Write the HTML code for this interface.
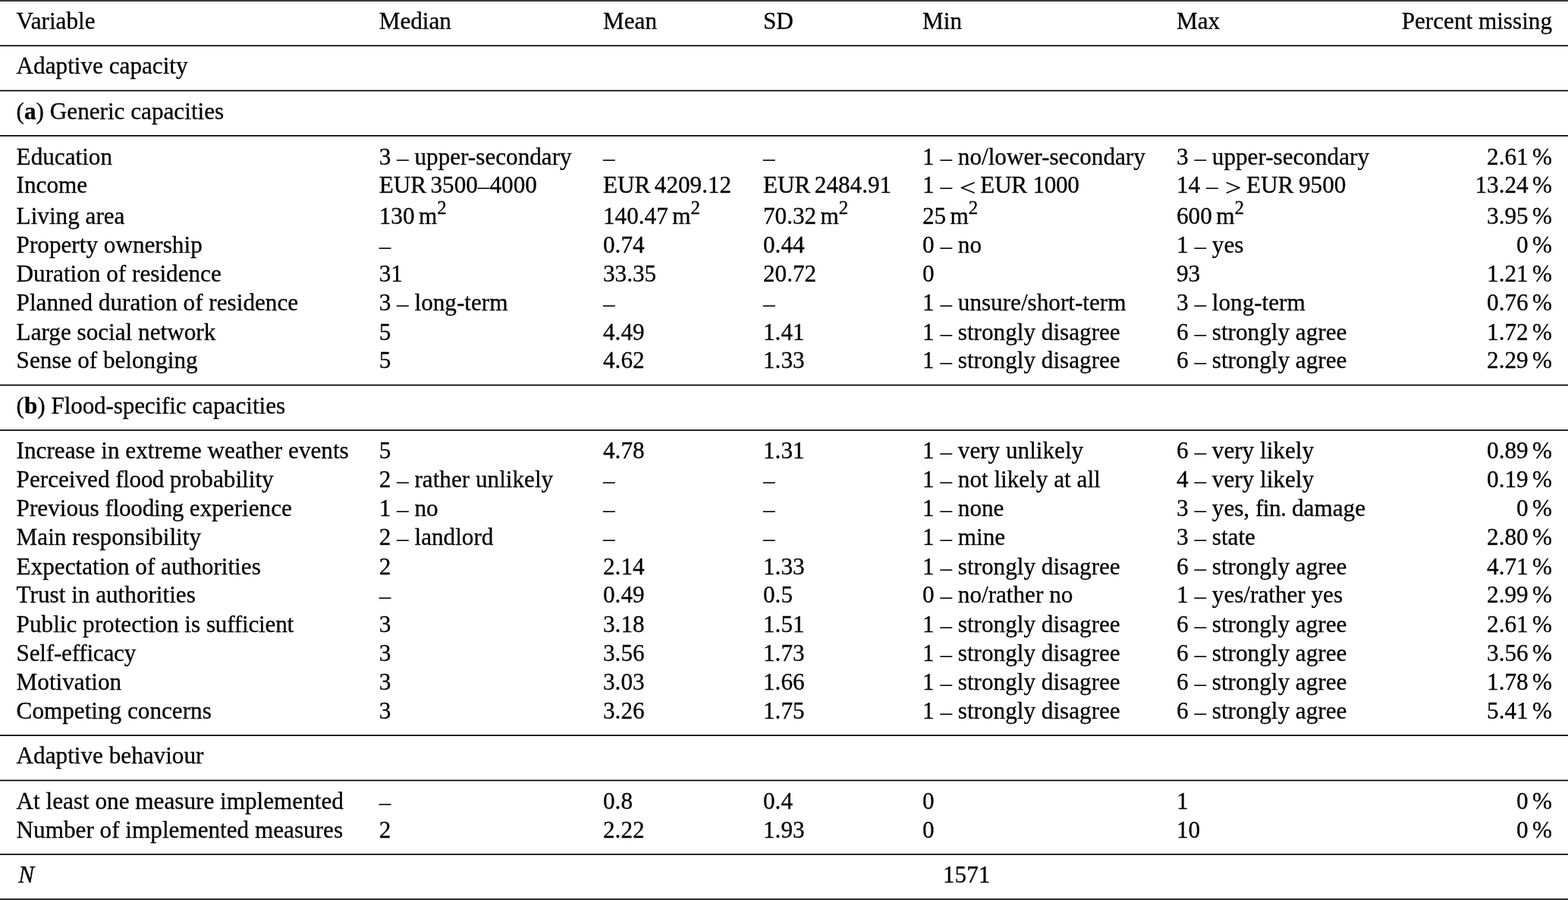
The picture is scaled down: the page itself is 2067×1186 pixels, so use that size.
<!DOCTYPE html><html lang="en"><head><meta charset="utf-8"><title>Table</title><style>
html,body{margin:0;padding:0;background:#fff}
body{width:2067px;height:1186px;position:relative;overflow:hidden;font-family:"Liberation Serif",serif;font-size:31.2px;color:#000;-webkit-text-stroke:0.3px #000;line-height:40px}
.r{position:absolute;left:0;width:2067px;height:40px;white-space:nowrap}
.r span{position:absolute;top:0}
.r span.t{position:static;letter-spacing:-0.85px}
.r span.m{position:static;display:inline-block;margin:0 0.4px 0 3.8px;transform:translateY(3.6px) scaleX(1.22)}
.r span.k{position:static;letter-spacing:-0.28px}
.r span.s{position:static;letter-spacing:-1.2px}
.r span.g{position:static}
.r span.d{position:relative;top:2px;-webkit-text-stroke:0}
.r .p{right:21.0px}
svg{position:absolute;left:0;top:0}
sup{font-size:0.8em;line-height:0;vertical-align:baseline;position:relative;top:-0.507em}
.c0{left:21.6px}
.c1{left:499.7px}
.c2{left:795.0px}
.c3{left:1006.0px}
.c4{left:1216.0px}
.c5{left:1551.0px}
</style></head><body>
<svg width="2067" height="1186" viewBox="0 0 2067 1186"><rect x="0" y="0" width="2067" height="1" fill="#444"/><rect x="0" y="1" width="2067" height="1" fill="#2a2a2a"/><rect x="0" y="59.40" width="2067" height="1.7" fill="#000"/><rect x="0" y="118.65" width="2067" height="1.7" fill="#000"/><rect x="0" y="178.00" width="2067" height="1.7" fill="#000"/><rect x="0" y="506.65" width="2067" height="1.7" fill="#000"/><rect x="0" y="566.00" width="2067" height="1.7" fill="#000"/><rect x="0" y="968.25" width="2067" height="1.7" fill="#000"/><rect x="0" y="1027.60" width="2067" height="1.7" fill="#000"/><rect x="0" y="1124.95" width="2067" height="1.7" fill="#000"/><rect x="0" y="1183.9" width="2067" height="2.1" fill="#303030"/></svg>
<div class="r" style="top:8px"><span class="c0">Variable</span><span class="c1">Median</span><span class="c2">Mean</span><span class="c3">SD</span><span class="c4">Min</span><span class="c5">Max</span><span class="p">Percent missing</span></div>
<div class="r" style="top:67px"><span class="c0">Adaptive capacity</span></div>
<div class="r" style="top:127px"><span class="c0">(<b>a</b>) Generic capacities</span></div>
<div class="r" style="top:187px"><span class="c0">Education</span><span class="c1">3 <span class="d">–</span> upper-secondary</span><span class="c2"><span class="d">–</span></span><span class="c3"><span class="d">–</span></span><span class="c4">1 <span class="d">–</span> no/lower-secondary</span><span class="c5">3 <span class="d">–</span> upper-secondary</span><span class="p">2.61<span class="t"> </span>%</span></div>
<div class="r" style="top:224px"><span class="c0">Income</span><span class="c1">EUR<span class="t"> </span>3500<span class="d">–</span>4000</span><span class="c2">EUR<span class="t"> </span>4209.12</span><span class="c3">EUR<span class="t"> </span>2484.91</span><span class="c4">1 <span class="d">–</span> <span class="m">&lt;</span> <span class="k">EUR 1000</span></span><span class="c5">14 <span class="d">–</span> <span class="m">&gt;</span> EUR<span class="s"> </span>9500</span><span class="p">13.24<span class="t"> </span>%</span></div>
<div class="r" style="top:265px"><span class="c0">Living area</span><span class="c1">130<span class="t"> </span>m<sup>2</sup></span><span class="c2">140.47<span class="t"> </span>m<sup>2</sup></span><span class="c3">70.32<span class="t"> </span>m<sup>2</sup></span><span class="c4">25<span class="t"> </span>m<sup>2</sup></span><span class="c5">600<span class="t"> </span>m<sup>2</sup></span><span class="p">3.95<span class="t"> </span>%</span></div>
<div class="r" style="top:303px"><span class="c0">Property ownership</span><span class="c1"><span class="d">–</span></span><span class="c2">0.74</span><span class="c3">0.44</span><span class="c4">0 <span class="d">–</span> no</span><span class="c5">1 <span class="d">–</span> yes</span><span class="p">0<span class="t"> </span>%</span></div>
<div class="r" style="top:341px"><span class="c0">Duration of residence</span><span class="c1">31</span><span class="c2">33.35</span><span class="c3">20.72</span><span class="c4">0</span><span class="c5">93</span><span class="p">1.21<span class="t"> </span>%</span></div>
<div class="r" style="top:379px"><span class="c0">Planned duration of residence</span><span class="c1">3 <span class="d">–</span> long-term</span><span class="c2"><span class="d">–</span></span><span class="c3"><span class="d">–</span></span><span class="c4">1 <span class="d">–</span> unsure/short-term</span><span class="c5">3 <span class="d">–</span> long-term</span><span class="p">0.76<span class="t"> </span>%</span></div>
<div class="r" style="top:418px"><span class="c0">Large social network</span><span class="c1">5</span><span class="c2">4.49</span><span class="c3">1.41</span><span class="c4">1 <span class="d">–</span> strongly disagree</span><span class="c5">6 <span class="d">–</span> strongly agree</span><span class="p">1.72<span class="t"> </span>%</span></div>
<div class="r" style="top:455px"><span class="c0">Sense of belonging</span><span class="c1">5</span><span class="c2">4.62</span><span class="c3">1.33</span><span class="c4">1 <span class="d">–</span> strongly disagree</span><span class="c5">6 <span class="d">–</span> strongly agree</span><span class="p">2.29<span class="t"> </span>%</span></div>
<div class="r" style="top:515px"><span class="c0">(<b>b</b>) <span class="g" style="letter-spacing:-0.157px">Flood-specific</span> capacities</span></div>
<div class="r" style="top:574px"><span class="c0">Increase in extreme weather events</span><span class="c1">5</span><span class="c2">4.78</span><span class="c3">1.31</span><span class="c4">1 <span class="d">–</span> very unlikely</span><span class="c5">6 <span class="d">–</span> very likely</span><span class="p">0.89<span class="t"> </span>%</span></div>
<div class="r" style="top:612px"><span class="c0">Perceived <span class="g" style="letter-spacing:-0.440px">flood</span> probability</span><span class="c1">2 <span class="d">–</span> rather unlikely</span><span class="c2"><span class="d">–</span></span><span class="c3"><span class="d">–</span></span><span class="c4">1 <span class="d">–</span> not likely at all</span><span class="c5">4 <span class="d">–</span> very likely</span><span class="p">0.19<span class="t"> </span>%</span></div>
<div class="r" style="top:650px"><span class="c0">Previous <span class="g" style="letter-spacing:-0.275px">flooding</span> experience</span><span class="c1">1 <span class="d">–</span> no</span><span class="c2"><span class="d">–</span></span><span class="c3"><span class="d">–</span></span><span class="c4">1 <span class="d">–</span> none</span><span class="c5">3 <span class="d">–</span> yes, <span class="g" style="letter-spacing:-0.550px">fin.</span> damage</span><span class="p">0<span class="t"> </span>%</span></div>
<div class="r" style="top:688px"><span class="c0">Main responsibility</span><span class="c1">2 <span class="d">–</span> landlord</span><span class="c2"><span class="d">–</span></span><span class="c3"><span class="d">–</span></span><span class="c4">1 <span class="d">–</span> mine</span><span class="c5">3 <span class="d">–</span> state</span><span class="p">2.80<span class="t"> </span>%</span></div>
<div class="r" style="top:727px"><span class="c0">Expectation of authorities</span><span class="c1">2</span><span class="c2">2.14</span><span class="c3">1.33</span><span class="c4">1 <span class="d">–</span> strongly disagree</span><span class="c5">6 <span class="d">–</span> strongly agree</span><span class="p">4.71<span class="t"> </span>%</span></div>
<div class="r" style="top:764px"><span class="c0">Trust in authorities</span><span class="c1"><span class="d">–</span></span><span class="c2">0.49</span><span class="c3">0.5</span><span class="c4">0 <span class="d">–</span> no/rather no</span><span class="c5">1 <span class="d">–</span> yes/rather yes</span><span class="p">2.99<span class="t"> </span>%</span></div>
<div class="r" style="top:803px"><span class="c0">Public protection is <span class="g" style="letter-spacing:-0.220px">sufficient</span></span><span class="c1">3</span><span class="c2">3.18</span><span class="c3">1.51</span><span class="c4">1 <span class="d">–</span> strongly disagree</span><span class="c5">6 <span class="d">–</span> strongly agree</span><span class="p">2.61<span class="t"> </span>%</span></div>
<div class="r" style="top:841px"><span class="c0"><span class="g" style="letter-spacing:-0.231px">Self-efficacy</span></span><span class="c1">3</span><span class="c2">3.56</span><span class="c3">1.73</span><span class="c4">1 <span class="d">–</span> strongly disagree</span><span class="c5">6 <span class="d">–</span> strongly agree</span><span class="p">3.56<span class="t"> </span>%</span></div>
<div class="r" style="top:879px"><span class="c0">Motivation</span><span class="c1">3</span><span class="c2">3.03</span><span class="c3">1.66</span><span class="c4">1 <span class="d">–</span> strongly disagree</span><span class="c5">6 <span class="d">–</span> strongly agree</span><span class="p">1.78<span class="t"> </span>%</span></div>
<div class="r" style="top:917px"><span class="c0">Competing concerns</span><span class="c1">3</span><span class="c2">3.26</span><span class="c3">1.75</span><span class="c4">1 <span class="d">–</span> strongly disagree</span><span class="c5">6 <span class="d">–</span> strongly agree</span><span class="p">5.41<span class="t"> </span>%</span></div>
<div class="r" style="top:976px"><span class="c0">Adaptive behaviour</span></div>
<div class="r" style="top:1036px"><span class="c0">At least one measure implemented</span><span class="c1"><span class="d">–</span></span><span class="c2">0.8</span><span class="c3">0.4</span><span class="c4">0</span><span class="c5">1</span><span class="p">0<span class="t"> </span>%</span></div>
<div class="r" style="top:1074px"><span class="c0">Number of implemented measures</span><span class="c1">2</span><span class="c2">2.22</span><span class="c3">1.93</span><span class="c4">0</span><span class="c5">10</span><span class="p">0<span class="t"> </span>%</span></div>
<div class="r" style="top:1133px"><span class="c0"><i style="margin-left:2.6px">N</i></span><span style="left:1243px">1571</span></div>
</body></html>
